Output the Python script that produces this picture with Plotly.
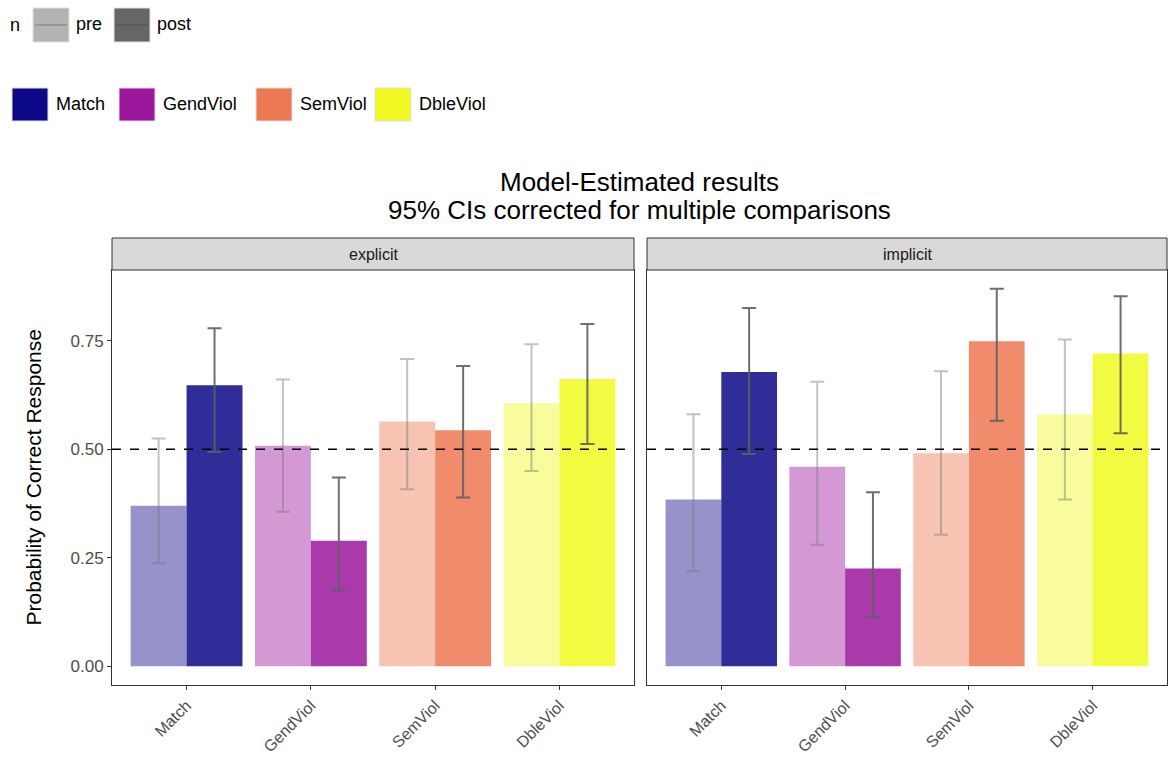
import plotly.graph_objects as go

# ---- data -------------------------------------------------------------
categories = ["Match", "GendViol", "SemViol", "DbleViol"]
panels = ["explicit", "implicit"]

# model-estimated probability of correct response
explicit_pre = [0.370, 0.508, 0.564, 0.606]
explicit_post = [0.648, 0.289, 0.544, 0.662]
implicit_pre = [0.384, 0.460, 0.491, 0.580]
implicit_post = [0.678, 0.225, 0.749, 0.721]

# 95% CI bounds
explicit_pre_lo = [0.237, 0.356, 0.408, 0.450]
explicit_pre_hi = [0.525, 0.661, 0.708, 0.742]
explicit_post_lo = [0.494, 0.175, 0.389, 0.512]
explicit_post_hi = [0.779, 0.435, 0.692, 0.789]
implicit_pre_lo = [0.219, 0.280, 0.303, 0.384]
implicit_pre_hi = [0.581, 0.656, 0.680, 0.753]
implicit_post_lo = [0.489, 0.113, 0.566, 0.537]
implicit_post_hi = [0.826, 0.401, 0.870, 0.853]

y_ticks = [0.0, 0.25, 0.5, 0.75]
y_tick_labels = ["0.00", "0.25", "0.50", "0.75"]
chance_level = 0.5

# ---- styling ----------------------------------------------------------
W, H = 1168, 759
FONT = "Liberation Sans, Arial, Helvetica, sans-serif"
base_rgb = [(13, 8, 135), (156, 23, 158), (237, 121, 83), (240, 249, 33)]
pre_alpha, post_alpha = 0.44, 0.855


def rgba(c, a):
    return f"rgba({c[0]},{c[1]},{c[2]},{a})"


def px_x(p):
    return p / W


def px_y(p):
    return 1 - p / H


panel_x = [(112, 634), (647, 1167)]
plot_top, plot_bot = 270, 685
strip_top = 238

fig = go.Figure()

series = {
    "explicit": (explicit_pre, explicit_pre_lo, explicit_pre_hi,
                 explicit_post, explicit_post_lo, explicit_post_hi),
    "implicit": (implicit_pre, implicit_pre_lo, implicit_pre_hi,
                 implicit_post, implicit_post_lo, implicit_post_hi),
}

for i, name in enumerate(panels):
    pre, pre_lo, pre_hi, post, post_lo, post_hi = series[name]
    xa = "x" if i == 0 else "x2"
    ya = "y" if i == 0 else "y2"
    for vals, lo, hi, alpha, ecol in [
        (pre, pre_lo, pre_hi, pre_alpha, "rgba(120,120,120,0.45)"),
        (post, post_lo, post_hi, post_alpha, "rgba(95,95,95,0.9)"),
    ]:
        fig.add_trace(go.Bar(
            x=categories, y=vals, xaxis=xa, yaxis=ya,
            marker=dict(color=[rgba(c, alpha) for c in base_rgb], line=dict(width=0)),
            error_y=dict(type="data", symmetric=False,
                         array=[h - v for h, v in zip(hi, vals)],
                         arrayminus=[v - l for v, l in zip(vals, lo)],
                         color=ecol, thickness=2, width=7),
            showlegend=False, hoverinfo="skip",
        ))

axis_common = dict(
    showline=True, linecolor="#333333", linewidth=1, mirror=True,
    showgrid=False, zeroline=False, ticks="outside", ticklen=4,
    tickcolor="#333333", tickwidth=1,
)
ydom = [px_y(plot_bot), px_y(plot_top)]
yr = [-0.0435, 0.9135]
xtickfont = dict(size=16, color="#4d4d4d")

fig.update_layout(
    xaxis=dict(domain=[px_x(panel_x[0][0]), px_x(panel_x[0][1])], range=[-0.6, 3.6],
               tickangle=-45, tickfont=xtickfont, anchor="y", **axis_common),
    xaxis2=dict(domain=[px_x(panel_x[1][0]), px_x(panel_x[1][1])], range=[-0.6, 3.6],
                tickangle=-45, tickfont=xtickfont, anchor="y2", **axis_common),
    yaxis=dict(domain=ydom, range=yr, tickvals=y_ticks, ticktext=y_tick_labels,
               tickfont=dict(size=17, color="#4d4d4d"), anchor="x", **axis_common),
    yaxis2=dict(domain=ydom, range=yr, tickvals=y_ticks, showticklabels=False,
                anchor="x2", **{**axis_common, "ticks": ""}),
    barmode="group", bargap=0.1, bargroupgap=0,
    width=W, height=H, margin=dict(l=0, r=0, t=0, b=0),
    plot_bgcolor="white", paper_bgcolor="white",
    font=dict(family=FONT, color="black"),
)

# y-axis title
fig.add_annotation(text="Probability of Correct Response", xref="paper", yref="paper",
                   x=px_x(33), y=px_y((plot_top + plot_bot) / 2), textangle=-90,
                   xanchor="center", yanchor="middle", showarrow=False,
                   font=dict(size=21, color="black"))

# chance-level reference lines
for i in range(2):
    xr = "x domain" if i == 0 else "x2 domain"
    yref = "y" if i == 0 else "y2"
    fig.add_shape(type="line", xref=xr, yref=yref, x0=0, x1=1, y0=chance_level, y1=chance_level,
                  line=dict(color="black", width=1.5, dash="dash"))

# facet strips
for i, name in enumerate(panels):
    x0, x1 = panel_x[i]
    fig.add_shape(type="rect", xref="paper", yref="paper",
                  x0=px_x(x0), x1=px_x(x1), y0=px_y(plot_top), y1=px_y(strip_top),
                  fillcolor="#d9d9d9", line=dict(color="#333333", width=1))
    fig.add_annotation(text=name, xref="paper", yref="paper",
                       x=px_x((x0 + x1) / 2), y=px_y((plot_top + strip_top) / 2),
                       xanchor="center", yanchor="middle",
                       showarrow=False, font=dict(size=16, color="#1a1a1a"))

# title, two lines
for line_text, yc in [("Model-Estimated results", 182),
                      ("95% CIs corrected for multiple comparisons", 210)]:
    fig.add_annotation(text=line_text, xref="paper", yref="paper", x=px_x(639.5), y=px_y(yc),
                       xanchor="center", yanchor="middle",
                       showarrow=False, font=dict(size=26, color="black"))

# legend: time
fig.add_annotation(text="n", xref="paper", yref="paper", x=px_x(8), y=px_y(25),
                   xanchor="left", yanchor="middle", showarrow=False,
                   font=dict(size=18, color="black"))
time_keys = [("pre", "#b3b3b3", "#8c8c8c", 33), ("post", "#666666", "#595959", 114)]
for label, fill, line, x0 in time_keys:
    fig.add_shape(type="rect", xref="paper", yref="paper",
                  x0=px_x(x0), x1=px_x(x0 + 36), y0=px_y(42), y1=px_y(8),
                  fillcolor=fill, line=dict(color="#e0e0e0", width=1))
    fig.add_shape(type="line", xref="paper", yref="paper",
                  x0=px_x(x0 + 2), x1=px_x(x0 + 34), y0=px_y(25), y1=px_y(25),
                  line=dict(color=line, width=1.5))
    fig.add_annotation(text=label, xref="paper", yref="paper", x=px_x(x0 + 41), y=px_y(24),
                       xanchor="left", yanchor="middle", showarrow=False,
                       font=dict(size=18, color="black"))

# legend: condition
cond_x = [12, 119, 256, 375]
for cat, c, x0 in zip(categories, base_rgb, cond_x):
    fig.add_shape(type="rect", xref="paper", yref="paper",
                  x0=px_x(x0), x1=px_x(x0 + 36), y0=px_y(121), y1=px_y(88),
                  fillcolor=rgba(c, 1), line=dict(color="#e0e0e0", width=1))
    fig.add_annotation(text=cat, xref="paper", yref="paper", x=px_x(x0 + 42), y=px_y(104),
                       xanchor="left", yanchor="middle", showarrow=False,
                       font=dict(size=18, color="black"))

fig.write_html("out.html")
